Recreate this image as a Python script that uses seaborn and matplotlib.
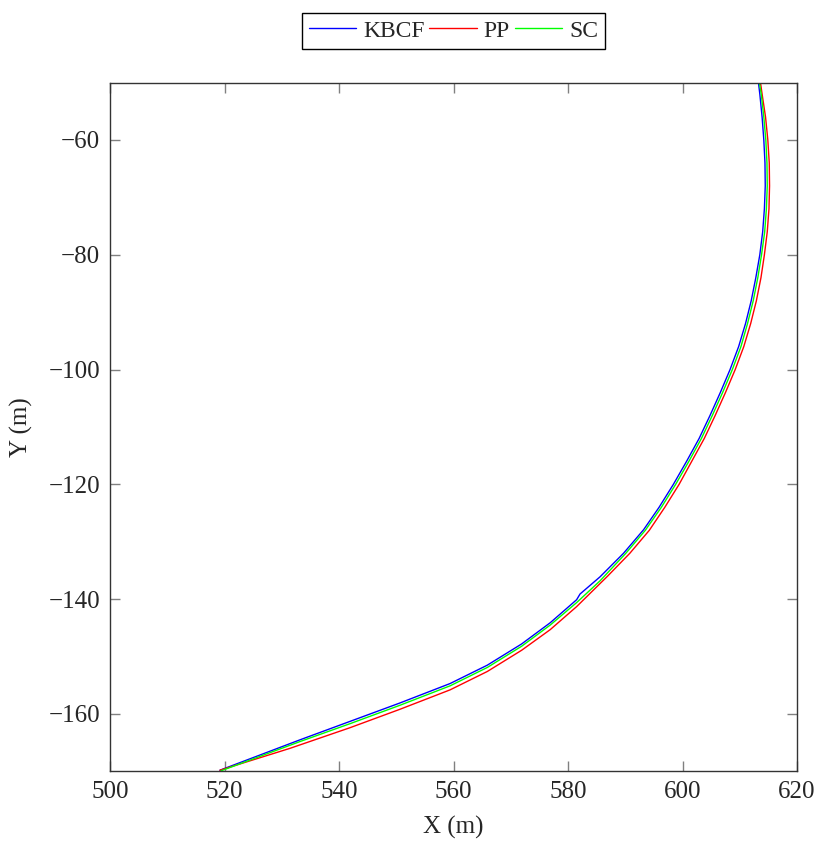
import pandas as pd
import matplotlib
matplotlib.use("Agg")
import matplotlib.pyplot as plt
import seaborn as sns

# trajectories (x, y in metres)
kbcf_x = [519.2, 533.2, 541.9, 550.6, 559.4, 565.9, 571.9, 576.9, 581.5, 582.1, 585.6, 589.7,
          593.2, 595.9, 598.4, 600.7, 602.9, 604.8, 606.6, 608.3, 609.8, 611.0, 612.0, 612.8,
          613.5, 614.0, 614.3, 614.45, 614.4, 614.2, 613.9, 613.5, 613.25]
kbcf_y = [-169.8, -164.5, -161.3, -158.1, -154.7, -151.5, -147.8, -144.1, -140.1, -139.1, -136.1, -132.0,
          -127.9, -124.0, -120.0, -116.0, -112.0, -108.0, -104.0, -100.0, -96.0, -92.0, -88.0, -84.0,
          -80.0, -76.0, -72.0, -68.0, -64.0, -60.0, -56.0, -52.0, -49.9]

pp_x = [519.2, 531.4, 541.9, 550.6, 559.4, 565.9, 571.9, 576.9, 581.5, 586.9, 590.8, 594.2,
        596.9, 599.4, 601.6, 603.8, 605.7, 607.5, 609.2, 610.7, 611.9, 612.9, 613.7, 614.3,
        614.8, 615.1, 615.2, 615.15, 614.9, 614.5, 613.9, 613.6]
pp_y = [-169.8, -166.0, -162.4, -159.2, -155.8, -152.6, -148.9, -145.3, -141.3, -136.0, -132.0, -128.0,
        -124.0, -120.0, -116.0, -112.0, -108.0, -104.0, -100.0, -96.0, -92.0, -88.0, -84.0, -80.0,
        -76.0, -72.0, -68.0, -64.0, -60.0, -56.0, -52.0, -49.9]

sc_x = [519.4, 533.2, 541.9, 550.6, 559.4, 565.9, 571.9, 576.9, 581.5, 585.6, 590.1, 593.5,
        596.3, 598.8, 601.1, 603.3, 605.2, 607.0, 608.7, 610.2, 611.35, 612.35, 613.15, 613.8,
        614.35, 614.65, 614.8, 614.75, 614.55, 614.2, 613.75, 613.4]
sc_y = [-169.9, -164.8, -161.7, -158.5, -155.1, -151.9, -148.2, -144.5, -140.6, -136.8, -132.0, -128.0,
        -124.0, -120.0, -116.0, -112.0, -108.0, -104.0, -100.0, -96.0, -92.0, -88.0, -84.0, -80.0,
        -76.0, -72.0, -68.0, -64.0, -60.0, -56.0, -52.0, -49.9]

methods = ["KBCF", "PP", "SC"]
colors = {"KBCF": "#0000ff", "PP": "#ff0000", "SC": "#00ff00"}

df = pd.concat([
    pd.DataFrame({"x": kbcf_x, "y": kbcf_y, "method": "KBCF"}),
    pd.DataFrame({"x": pp_x, "y": pp_y, "method": "PP"}),
    pd.DataFrame({"x": sc_x, "y": sc_y, "method": "SC"}),
], ignore_index=True)

sns.set_style("ticks")
plt.rcParams["font.family"] = ["Liberation Serif", "DejaVu Serif"]
fs = 18

fig = plt.figure(figsize=(8.21, 8.41), dpi=100)
ax = fig.add_axes([0.134, 0.0828, 0.8368, 0.819])

sns.lineplot(data=df, x="x", y="y", hue="method", hue_order=methods, palette=colors,
             sort=False, estimator=None, linewidth=1.0, ax=ax)

ax.set_xlim(500, 620)
ax.set_ylim(-170, -50)
ax.set_xticks(range(500, 621, 20))
ax.set_yticks(range(-160, -59, 20))
ax.set_yticklabels([f"\u2212{abs(v)}" for v in range(-160, -59, 20)])
ax.set_xlabel("X (m)", fontsize=fs, labelpad=9)
ax.set_ylabel("Y (m)", fontsize=fs, labelpad=11)
ax.tick_params(direction="in", length=7, width=1, color="#808080", labelsize=fs,
               top=True, right=True, pad=7)
for s in ax.spines.values():
    s.set_color("#333333")
    s.set_linewidth(1.0)

leg = ax.legend(loc="lower center", bbox_to_anchor=(0.5, 1.049), ncol=3, fontsize=17,
                frameon=True, fancybox=False, framealpha=1, edgecolor="black",
                borderaxespad=0, handlelength=2.0, handletextpad=0.3, columnspacing=0.2,
                borderpad=0.3)
leg.get_frame().set_linewidth(1.0)

fig.savefig("out.png", dpi=100)
